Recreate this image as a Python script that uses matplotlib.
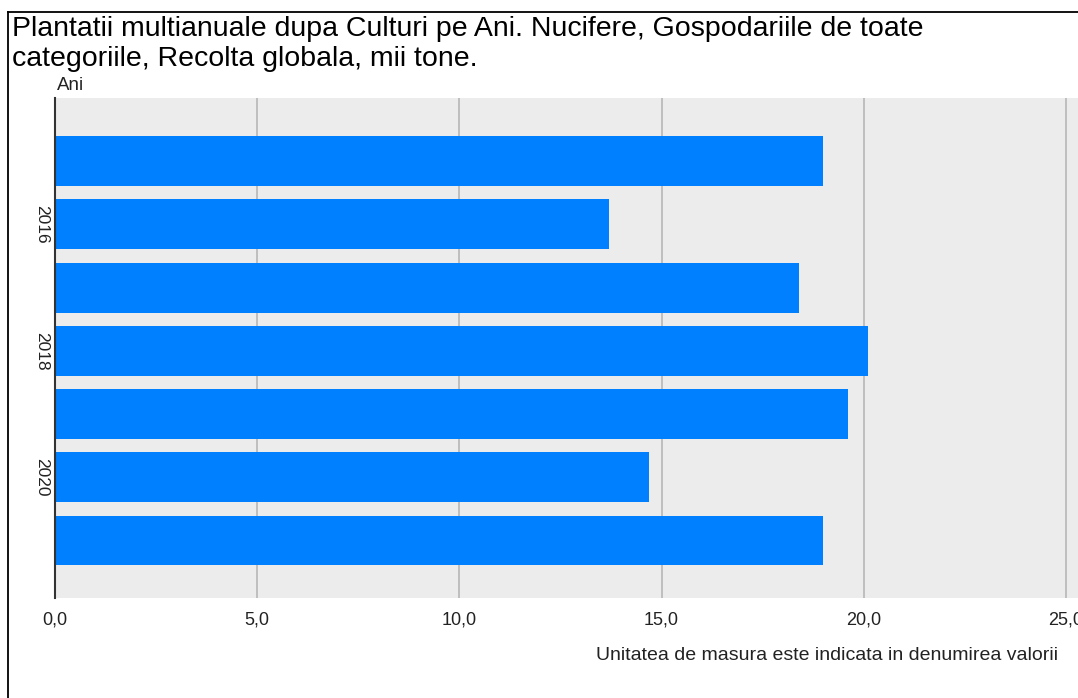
# Plantatii multianuale - Nucifere, recolta globala (mii tone)
import matplotlib.pyplot as plt
from matplotlib.lines import Line2D

years = [2015, 2016, 2017, 2018, 2019, 2020, 2021]
values = [19.0, 13.7, 18.4, 20.1, 19.6, 14.7, 19.0]
shown_years = [2016, 2018, 2020]
x_ticks = [0, 5, 10, 15, 20, 25]
x_tick_labels = ['0,0', '5,0', '10,0', '15,0', '20,0', '25,0']

plt.rcParams['font.family'] = ['Liberation Sans', 'DejaVu Sans']

fig = plt.figure(figsize=(10.78, 6.98), dpi=100)
ax = fig.add_axes([55 / 1078, 1 - 598 / 698, 1023 / 1078, 500 / 698])
ax.set_facecolor('#ececec')

pos = list(range(len(years)))
ax.barh(pos, values, height=0.79, color='#0080ff', zorder=3)

ax.set_xlim(0, 25.3)
ax.set_ylim(6.91, -1.0)
ax.set_xticks(x_ticks)
ax.set_xticklabels(x_tick_labels, fontsize=13, color='#222222')
ax.set_yticks([years.index(y) for y in shown_years])
ax.set_yticklabels([str(y) for y in shown_years], rotation=-90, va='center',
                   fontsize=12.5, color='#222222')
ax.tick_params(axis='x', length=0, pad=10)
ax.tick_params(axis='y', length=0, pad=4)

ax.grid(axis='x', color='#bbbbbb', linewidth=1.3, zorder=1)
for side in ['top', 'right', 'bottom']:
    ax.spines[side].set_visible(False)
ax.spines['left'].set_color('#333333')
ax.spines['left'].set_linewidth(1.5)
ax.spines['left'].set_zorder(4)

fig.text(12 / 1078, 1 - 16 / 698,
         'Plantatii multianuale dupa Culturi pe Ani. Nucifere, Gospodariile de toate\n'
         'categoriile, Recolta globala, mii tone.',
         ha='left', va='top', fontsize=20.5, linespacing=1.2, color='#000000')
fig.text(57 / 1078, 1 - 85 / 698, 'Ani', ha='left', va='center', fontsize=13.5,
         color='#222222')
fig.text(1058 / 1078, 1 - 655 / 698,
         'Unitatea de masura este indicata in denumirea valorii',
         ha='right', va='center', fontsize=14, color='#222222')

# chenarul figurii (stanga si sus)
fig.add_artist(Line2D([8 / 1078, 8 / 1078], [0, 1 - 12 / 698], color='black', linewidth=1.3))
fig.add_artist(Line2D([8 / 1078, 1], [1 - 12 / 698, 1 - 12 / 698], color='black', linewidth=1.3))

fig.savefig('out.png', dpi=100)
